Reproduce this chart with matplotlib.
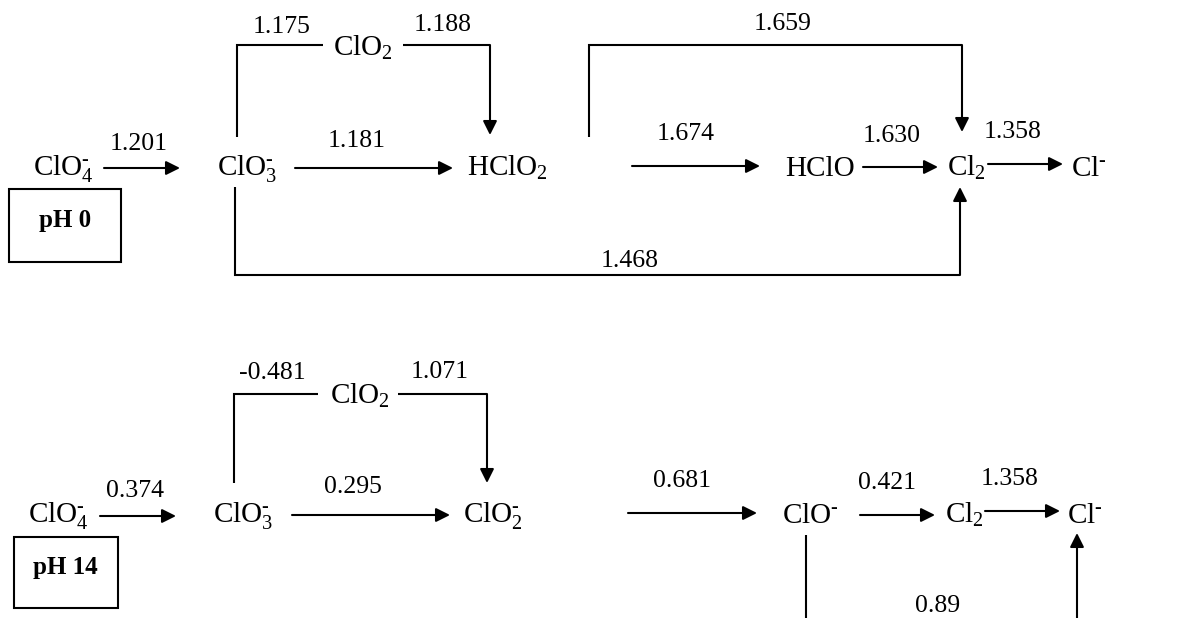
import matplotlib.pyplot as plt
from matplotlib.patches import Rectangle

plt.rcParams['font.family'] = ['Liberation Serif', 'DejaVu Serif']
plt.rcParams['mathtext.fontset'] = 'custom'
plt.rcParams['mathtext.rm'] = 'Liberation Serif'
plt.rcParams['mathtext.it'] = 'Liberation Serif'
plt.rcParams['mathtext.bf'] = 'Liberation Serif:bold'

M = r'^{\text{-}}'

# данные: частицы и потенциалы (В)
acid_species = [r'$\mathrm{ClO_4' + M + '}$', r'$\mathrm{ClO_3' + M + '}$', r'$\mathrm{HClO_2}$',
                'HClO', r'$\mathrm{Cl_2}$', r'$\mathrm{Cl' + M + '}$']
acid_steps = ['1.201', '1.181', '1.674', '1.630', '1.358']
acid_side = r'$\mathrm{ClO_2}$'
acid_side_pot = ['1.175', '1.188']
acid_skip = ['1.659', '1.468']

base_species = [r'$\mathrm{ClO_4' + M + '}$', r'$\mathrm{ClO_3' + M + '}$', r'$\mathrm{ClO_2' + M + '}$',
                r'$\mathrm{ClO' + M + '}$', r'$\mathrm{Cl_2}$', r'$\mathrm{Cl' + M + '}$']
base_steps = ['0.374', '0.295', '0.681', '0.421', '1.358']
base_side = r'$\mathrm{ClO_2}$'
base_side_pot = ['-0.481', '1.071']
base_skip = ['0.89']

# раскладка (пиксели)
acid_sp_x = [33, 217, 467, 785, 947, 1071]
acid_sp_y = 176
acid_arr = [(104, 180, 168), (295, 453, 168), (632, 760, 166), (863, 938, 167), (988, 1063, 164)]
acid_lab = [(139, 150), (357, 147), (686, 140), (892, 142), (1013, 138)]

base_sp_x = [28, 213, 463, 782, 945, 1067]
base_sp_y = 523
base_arr = [(100, 176, 516), (292, 450, 515), (628, 757, 513), (860, 935, 515), (985, 1060, 511)]
base_lab = [(135, 497), (353, 493), (682, 487), (887, 489), (1010, 485)]

SP_FS = 21
NUM_FS = 18.5
LW = 1.5
AST = '-|>,head_length=0.6,head_width=0.3'


def arrow(ax, x0, y0, x1, y1):
    ax.annotate('', xy=(x1, y1), xytext=(x0, y0),
                arrowprops=dict(arrowstyle=AST, mutation_scale=14, lw=LW,
                                color='black', shrinkA=0, shrinkB=0))


def line(ax, xs, ys):
    ax.plot(xs, ys, color='black', lw=LW, solid_capstyle='butt',
            solid_joinstyle='miter')


fig = plt.figure(figsize=(11.86, 6.18), dpi=100)
ax = fig.add_axes([0, 0, 1, 1])
ax.set_xlim(0, 1186)
ax.set_ylim(618, 0)
ax.axis('off')

# pH 0
for s, x in zip(acid_species, acid_sp_x):
    ax.text(x, acid_sp_y, s, fontsize=SP_FS, ha='left', va='baseline')
for (x0, x1, y), (lx, ly), p in zip(acid_arr, acid_lab, acid_steps):
    arrow(ax, x0, y, x1, y)
    ax.text(lx, ly, p, fontsize=NUM_FS, ha='center', va='baseline')

ax.text(333, 56, acid_side, fontsize=SP_FS, ha='left', va='baseline')
line(ax, [237, 237, 323], [137, 45, 45])
line(ax, [403, 490], [45, 45])
arrow(ax, 490, 45, 490, 135)
ax.text(282, 33, acid_side_pot[0], fontsize=NUM_FS, ha='center', va='baseline')
ax.text(443, 31, acid_side_pot[1], fontsize=NUM_FS, ha='center', va='baseline')

line(ax, [589, 589, 962], [137, 45, 45])
arrow(ax, 962, 45, 962, 132)
ax.text(783, 30, acid_skip[0], fontsize=NUM_FS, ha='center', va='baseline')

line(ax, [235, 235, 960], [187, 275, 275])
arrow(ax, 960, 275, 960, 187)
ax.text(630, 267, acid_skip[1], fontsize=NUM_FS, ha='center', va='baseline')

ax.add_patch(Rectangle((9, 189), 112, 73, fill=False, lw=LW, ec='black'))
ax.text(65, 227, 'pH 0', fontsize=18, fontweight='bold', ha='center', va='baseline')

# pH 14
for s, x in zip(base_species, base_sp_x):
    ax.text(x, base_sp_y, s, fontsize=SP_FS, ha='left', va='baseline')
for (x0, x1, y), (lx, ly), p in zip(base_arr, base_lab, base_steps):
    arrow(ax, x0, y, x1, y)
    ax.text(lx, ly, p, fontsize=NUM_FS, ha='center', va='baseline')

ax.text(330, 404, base_side, fontsize=SP_FS, ha='left', va='baseline')
line(ax, [234, 234, 318], [483, 394, 394])
line(ax, [398, 487], [394, 394])
arrow(ax, 487, 394, 487, 483)
ax.text(272, 379, base_side_pot[0], fontsize=NUM_FS, ha='center', va='baseline')
ax.text(440, 378, base_side_pot[1], fontsize=NUM_FS, ha='center', va='baseline')

line(ax, [806, 806], [535, 620])
arrow(ax, 1077, 620, 1077, 533)
ax.text(938, 612, base_skip[0], fontsize=NUM_FS, ha='center', va='baseline')

ax.add_patch(Rectangle((14, 537), 104, 71, fill=False, lw=LW, ec='black'))
ax.text(65, 574, 'pH 14', fontsize=18, fontweight='bold', ha='center', va='baseline')

fig.savefig('out.png', dpi=100)
